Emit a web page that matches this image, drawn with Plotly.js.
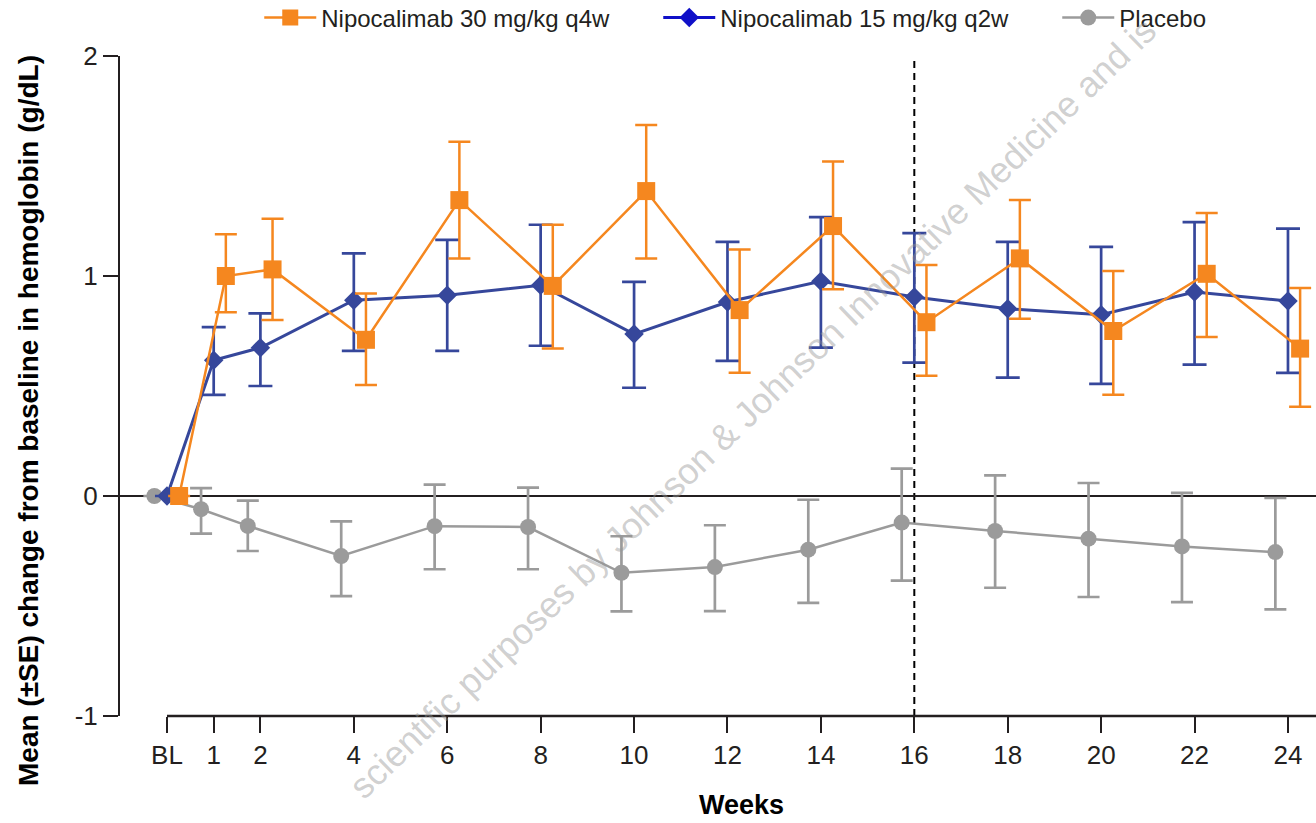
<!DOCTYPE html>
<html>
<head>
<meta charset="utf-8">
<script src="https://cdn.plot.ly/plotly-3.0.1.min.js"></script>
<style>html,body{margin:0;padding:0;background:#fff;}#chart{width:1316px;height:823px;}</style>
</head>
<body>
<div id="chart"></div>
<script>
// ---- data ----
const weeks = [0, 1, 2, 4, 6, 8, 10, 12, 14, 16, 18, 20, 22, 24];
const weekLabels = ['BL', '1', '2', '4', '6', '8', '10', '12', '14', '16', '18', '20', '22', '24'];

const nipo30Name = 'Nipocalimab 30 mg/kg q4w';
const nipo30Mean  = [0, 1.00, 1.03, 0.71, 1.345, 0.955, 1.386, 0.845, 1.227, 0.79, 1.08, 0.75, 1.01, 0.67];
const nipo30Upper = [0, 1.19, 1.26, 0.92, 1.61, 1.233, 1.686, 1.12, 1.52, 1.05, 1.345, 1.023, 1.286, 0.945];
const nipo30Lower = [0, 0.835, 0.80, 0.505, 1.08, 0.67, 1.08, 0.56, 0.94, 0.547, 0.806, 0.46, 0.723, 0.406];

const nipo15Name = 'Nipocalimab 15 mg/kg q2w';
const nipo15Mean  = [0, 0.617, 0.674, 0.89, 0.912, 0.958, 0.736, 0.882, 0.976, 0.905, 0.851, 0.824, 0.927, 0.886];
const nipo15Upper = [0, 0.768, 0.83, 1.103, 1.164, 1.233, 0.973, 1.155, 1.268, 1.195, 1.155, 1.132, 1.245, 1.215];
const nipo15Lower = [0, 0.46, 0.50, 0.66, 0.66, 0.683, 0.492, 0.614, 0.674, 0.606, 0.538, 0.51, 0.597, 0.56];

const placeboName = 'Placebo';
const placeboMean  = [0, -0.06, -0.136, -0.273, -0.137, -0.141, -0.349, -0.323, -0.244, -0.121, -0.159, -0.194, -0.229, -0.255];
const placeboUpper = [0, 0.036, -0.021, -0.115, 0.052, 0.038, -0.183, -0.133, -0.017, 0.124, 0.094, 0.059, 0.014, -0.009];
const placeboLower = [0, -0.171, -0.25, -0.455, -0.333, -0.333, -0.524, -0.523, -0.486, -0.385, -0.417, -0.459, -0.482, -0.515];

const yTicks = [-1, 0, 1, 2];
const yTickLabels = ['-1', '0', '1', '2'];
const xTitle = 'Weeks';
const yTitle = 'Mean (±SE) change from baseline in hemoglobin (g/dL)';
const watermark = 'scientific purposes by Johnson &amp; Johnson Innovative Medicine and is';

// ---- styles ----
const SANS = '"Liberation Sans", Arial, Helvetica, sans-serif';
const INK = '#231f20';
const ORANGE = '#f5871f';
const BLUE = '#36479b';
const GRAY = '#9b9b9b';
const shiftOrange = 0.26, shiftPlacebo = -0.27;
const xRange = [-1.006, 24.6];

const up = (u, m) => u.map((v, i) => v - m[i]);
const dn = (l, m) => l.map((v, i) => m[i] - v);

function series(name, mean, upper, lower, shift, color, symbol, size, lw, cap, thick, rank) {
  return {
    type: 'scatter', mode: 'lines+markers', name: name,
    x: weeks.map(w => w + shift), y: mean,
    line: {color: color, width: lw},
    marker: {color: color, symbol: symbol, size: size},
    error_y: {type: 'data', symmetric: false, array: up(upper, mean), arrayminus: dn(lower, mean),
              color: color, thickness: thick, width: cap},
    cliponaxis: false, legendrank: rank
  };
}

const traces = [
  series(placeboName, placeboMean, placeboUpper, placeboLower, shiftPlacebo, GRAY, 'circle', 16, 2.5, 11, 2.7, 3),
  Object.assign(series(nipo15Name, nipo15Mean, nipo15Upper, nipo15Lower, 0, BLUE, 'diamond', 15, 3, 12, 2.7, 2), {showlegend: false}),
  series(nipo30Name, nipo30Mean, nipo30Upper, nipo30Lower, shiftOrange, ORANGE, 'square', 18, 2.5, 11, 2.5, 1),
  // legend entry for the 15 mg/kg arm (drawn in the legend's brighter blue)
  {type: 'scatter', mode: 'lines+markers', name: nipo15Name, x: [null], y: [null],
   line: {color: '#1010c8', width: 3}, marker: {color: '#1010c8', symbol: 'diamond', size: 15}, legendrank: 2}
];

const span = xRange[1] - xRange[0];
const x0paper = (0 - xRange[0]) / span;
const PT = 56, PB = 716, PL = 120, PW = 1196, PH = PB - PT;
const px = v => (v - PL) / PW;
const py = v => (PB - v) / PH;

const layout = {
  width: 1316, height: 823,
  margin: {l: PL, r: 0, t: PT, b: 823 - PB, pad: 0, autoexpand: false},
  paper_bgcolor: '#fff', plot_bgcolor: '#fff',
  showlegend: true,
  legend: {orientation: 'h', xref: 'container', yref: 'container', x: 0.197, y: 1 - 18 / 823,
           xanchor: 'left', yanchor: 'middle',
           font: {family: SANS, size: 24, color: INK}, itemwidth: 52, entrywidth: 332, traceorder: 'normal',
           bgcolor: 'rgba(0,0,0,0)'},
  xaxis: {range: xRange, tickmode: 'array', tickvals: weeks, ticktext: weekLabels,
          ticks: 'outside', ticklen: 16, tickwidth: 2, tickcolor: INK,
          showline: false, showgrid: false, zeroline: false,
          tickfont: {family: SANS, size: 26, color: INK}, fixedrange: true},
  yaxis: {range: [-1, 2], tickmode: 'array', tickvals: yTicks, ticktext: yTickLabels,
          ticks: 'outside', ticklen: 15, tickwidth: 2, tickcolor: INK,
          showline: true, linewidth: 2, linecolor: INK, mirror: false,
          showgrid: false, zeroline: true, zerolinecolor: INK, zerolinewidth: 2,
          tickfont: {family: SANS, size: 26, color: INK}, fixedrange: true},
  shapes: [
    {type: 'line', xref: 'paper', yref: 'paper', x0: x0paper, x1: 1.02, y0: 0, y1: 0,
     line: {color: INK, width: 2.5}},
    {type: 'line', xref: 'x', yref: 'paper', x0: 16, x1: 16, y0: 0, y1: py(60),
     line: {color: '#000', width: 2, dash: '7px,5px'}, layer: 'below'}
  ],
  annotations: [
    {text: '<b>' + xTitle + '</b>', xref: 'paper', yref: 'paper', x: px(741), y: py(805),
     xanchor: 'center', yanchor: 'middle', showarrow: false, font: {family: SANS, size: 27, color: '#000'}},
    {text: '<b>' + yTitle + '</b>', xref: 'paper', yref: 'paper', x: px(29), y: py(421),
     xanchor: 'center', yanchor: 'middle', textangle: -90, showarrow: false, font: {family: SANS, size: 28, color: '#000'}},
    {text: watermark, xref: 'paper', yref: 'paper', x: px(752), y: py(408),
     xanchor: 'center', yanchor: 'middle', textangle: -44, showarrow: false,
     font: {family: SANS, size: 36, color: 'rgba(150,150,150,0.45)'}}
  ]
};

Plotly.newPlot('chart', traces, layout, {displayModeBar: false, staticPlot: true});
</script>
</body>
</html>
